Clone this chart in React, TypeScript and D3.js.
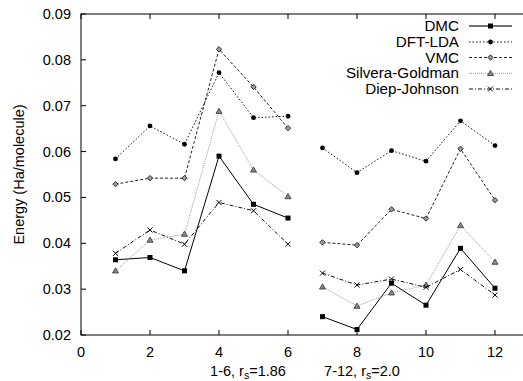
import React from "react";
import * as d3 from "d3";

const xs = [1, 2, 3, 4, 5, 6, 7, 8, 9, 10, 11, 12];
const dmc = [0.0364, 0.0369, 0.0340, 0.0590, 0.0485, 0.0455, 0.0240, 0.0212, 0.0313, 0.0265, 0.0389, 0.0302];
const dftLda = [0.0584, 0.0656, 0.0616, 0.0772, 0.0674, 0.0677, 0.0608, 0.0554, 0.0602, 0.0579, 0.0667, 0.0613];
const vmc = [0.0529, 0.0542, 0.0542, 0.0823, 0.0741, 0.0651, 0.0402, 0.0396, 0.0474, 0.0454, 0.0606, 0.0494];
const silveraGoldman = [0.0340, 0.0407, 0.0420, 0.0688, 0.0560, 0.0502, 0.0305, 0.0263, 0.0292, 0.0309, 0.0439, 0.0359];
const diepJohnson = [0.0378, 0.0429, 0.0398, 0.0489, 0.0471, 0.0398, 0.0335, 0.0309, 0.0322, 0.0304, 0.0343, 0.0287];
const seriesNames = ["DMC", "DFT-LDA", "VMC", "Silvera-Goldman", "Diep-Johnson"];
const xTicks = [0, 2, 4, 6, 8, 10, 12];
const yTicks = [0.02, 0.03, 0.04, 0.05, 0.06, 0.07, 0.08, 0.09];

const FONT = "'Liberation Sans', Arial, Helvetica, sans-serif";

type Style = { stroke: string; dash: string; marker: string };
const styles: Style[] = [
  { stroke: "#000", dash: "", marker: "square" },
  { stroke: "#111", dash: "1.5,2", marker: "circle" },
  { stroke: "#222", dash: "3,2", marker: "diamond" },
  { stroke: "#999", dash: "1,1", marker: "triangle" },
  { stroke: "#111", dash: "4,2,1,2", marker: "cross" },
];

function Marker({ type, x, y }: { type: string; x: number; y: number }) {
  if (type === "square") return <rect x={x - 2.5} y={y - 2.5} width={5} height={5} fill="#000" />;
  if (type === "circle") return <circle cx={x} cy={y} r={2.4} fill="#000" />;
  if (type === "diamond")
    return (
      <path d={`M${x},${y - 2.7}L${x + 2.7},${y}L${x},${y + 2.7}L${x - 2.7},${y}Z`} fill="#999" stroke="#222" strokeWidth={0.9} />
    );
  if (type === "triangle")
    return (
      <path d={`M${x},${y - 3}L${x + 3},${y + 2.2}L${x - 3},${y + 2.2}Z`} fill="#888" stroke="#333" strokeWidth={0.8} />
    );
  return (
    <path d={`M${x - 2.5},${y - 2.5}L${x + 2.5},${y + 2.5}M${x - 2.5},${y + 2.5}L${x + 2.5},${y - 2.5}`} stroke="#000" strokeWidth={1} />
  );
}

export default function App() {
  const W = 523, H = 381;
  const left = 81, top = 14, bottom = 335;
  const x = d3.scaleLinear().domain([0, 13]).range([left, left + 13 * 34.5]);
  const y = d3.scaleLinear().domain([0.02, 0.09]).range([bottom, top]);
  const right = x(13);
  const data = [dmc, dftLda, vmc, silveraGoldman, diepJohnson];
  const line = d3.line<[number, number]>().x((d) => x(d[0])).y((d) => y(d[1]));

  const legendY = [26, 42, 57.5, 73.3, 89];
  const fs = 14.5;

  return (
    <svg width={W} height={H} style={{ position: "absolute", left: 0, top: 0, background: "#fff" }} fontFamily={FONT}>
      <rect x={0} y={0} width={W} height={H} fill="#fff" />
      {/* frame */}
      <rect x={left} y={top} width={right - left} height={bottom - top} fill="none" stroke="#000" strokeWidth={1} />
      {/* x ticks */}
      {xTicks.map((t) => (
        <g key={"xt" + t}>
          <line x1={x(t)} x2={x(t)} y1={bottom} y2={bottom - 5} stroke="#000" />
          <line x1={x(t)} x2={x(t)} y1={top} y2={top + 5} stroke="#000" />
          <text x={x(t)} y={357} fontSize={fs} textAnchor="middle" fill="#000">
            {t}
          </text>
        </g>
      ))}
      {/* y ticks */}
      {yTicks.map((t) => (
        <g key={"yt" + t}>
          <line x1={left} x2={left + 5} y1={y(t)} y2={y(t)} stroke="#000" />
          <text x={71} y={y(t) + 5} fontSize={fs} textAnchor="end" fill="#000">
            {t.toFixed(2)}
          </text>
        </g>
      ))}
      <text transform={`translate(24,${(top + bottom) / 2}) rotate(-90)`} fontSize={fs} textAnchor="middle" fill="#000">
        Energy (Ha/molecule)
      </text>
      <text x={248} y={376} fontSize={fs} textAnchor="middle" fill="#000">
        1-6, r<tspan fontSize={10.5} dy={2.5}>s</tspan><tspan dy={-2.5}>=1.86</tspan>
      </text>
      <text x={362} y={376} fontSize={fs} textAnchor="middle" fill="#000">
        7-12, r<tspan fontSize={10.5} dy={2.5}>s</tspan><tspan dy={-2.5}>=2.0</tspan>
      </text>
      {/* series */}
      {data.map((vals, si) => {
        const st = styles[si];
        const pts: [number, number][] = xs.map((xv, i) => [xv, vals[i]]);
        const seg1 = pts.slice(0, 6);
        const seg2 = pts.slice(6);
        return (
          <g key={"s" + si}>
            {[seg1, seg2].map((seg, k) => (
              <path key={k} d={line(seg) || ""} fill="none" stroke={st.stroke} strokeWidth={1} strokeDasharray={st.dash} />
            ))}
            {pts.map((p, i) => (
              <Marker key={i} type={st.marker} x={x(p[0])} y={y(p[1])} />
            ))}
          </g>
        );
      })}
      {/* legend */}
      {seriesNames.map((name, i) => {
        const st = styles[i];
        const ly = legendY[i];
        return (
          <g key={"l" + i}>
            <text x={459} y={ly + 5} fontSize={15.2} textAnchor="end" fill="#000">
              {name}
            </text>
            <line x1={469} x2={512} y1={ly} y2={ly} stroke={i === 0 ? "#444" : st.stroke} strokeWidth={i === 0 ? 1.5 : 1} strokeDasharray={st.dash} />
            <Marker type={st.marker} x={490.5} y={ly} />
          </g>
        );
      })}
    </svg>
  );
}
